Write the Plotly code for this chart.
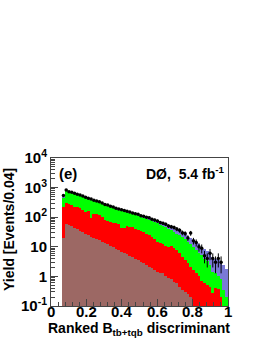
import plotly.graph_objects as go

# bins: width 1/64, first filled bin index 4
bin_width = 1.0 / 64
first_bin = 4

# stacked (cumulative) tops, per bin (index 4..63)
brown_top = [20, 58, 55, 50, 44, 40, 35, 32, 28, 25, 22, 20, 18, 17, 15, 13.5, 12, 10.5, 9.5, 8.5,
             7.6, 6.9, 6.0, 5.5, 5.0, 4.4, 4.0, 3.5, 3.1, 2.75, 2.4, 2.1, 1.86, 1.66, 1.45, 1.35, 1.26, 1.05, 0.89, 0.79,
             0.66, 0.60, 0.45, 0.35, 0.30, 0.25, 0.20, 0, 0, 0, 0, 0, 0, 0, 0, 0, 0, 0, 0, 0]
red_top = [224, 295, 275, 263, 229, 219, 200, 178, 155, 158, 95, 132, 126, 115, 105, 83, 76, 69, 66, 63,
           58, 42, 44, 52, 48, 45, 40, 36, 33, 32, 28, 25, 21, 19, 14, 13, 12, 10.5, 10, 11,
           8.9, 7.6, 6.0, 4.6, 3.5, 2.8, 2.0, 1.66, 1.26, 1.0, 0.71, 0.60, 0.50, 0.45, 0.28, 0.40, 0.38, 0.20, 0, 0]
green_top = [457, 832, 759, 692, 631, 575, 537, 501, 457, 427, 398, 363, 339, 316, 288, 263, 251, 219, 204, 191,
             178, 166, 155, 145, 135, 126, 117, 110, 102, 95, 89, 83, 76, 69, 62, 55, 50, 45, 40, 36,
             32, 28, 25, 21, 18, 14.5, 12.6, 10, 7.9, 6.3, 5.2, 4.0, 3.2, 2.5, 1.4, 1.3, 1.0, 0.8, 0.35, 0.2]
blue_top = [470, 855, 780, 712, 650, 593, 555, 518, 473, 443, 414, 378, 354, 331, 302, 277, 265, 232, 217, 204,
            191, 179, 168, 158, 148, 139, 130, 123, 115, 108, 102, 96, 89, 82, 75, 68, 63, 57, 52, 48,
            43, 39, 35, 31, 27, 23, 20, 17, 14, 12, 10, 8.5, 7.2, 6.0, 4.5, 4.0, 3.5, 3.0, 2.5, 1.8]
data_vals = [540, 830, 725, 700, 650, 600, 560, 520, 470, 440, 410, 375, 350, 330, 300, 270, 260, 235, 220, 200,
             190, 180, 170, 158, 150, 138, 130, 125, 112, 108, 100, 95, 86, 80, 74, 66, 62, 58, 50, 48,
             45, 40, 36, 30, 28, 20, 29, 16, 14, 10, 9, 5, 4, 6, 4, 3, 4, 3, 0, 0]

ytick_vals = [0.1, 1, 10, 100, 1000, 10000]
ytick_text = ["10<sup>-1</sup>", "1", "10", "10<sup>2</sup>", "10<sup>3</sup>", "10<sup>4</sup>"]
xtick_vals = [0, 0.2, 0.4, 0.6, 0.8, 1.0]
xtick_text = ["0", "0.2", "0.4", "0.6", "0.8", "1"]

centers = [(first_bin + i + 0.5) * bin_width for i in range(len(blue_top))]

def nz(v):
    return [x if x > 0 else None for x in v]

fig = go.Figure()
for vals, col in [(blue_top, "#7a7ad6"), (green_top, "#00ff00"), (red_top, "#ff0000"), (brown_top, "#9c6864")]:
    fig.add_trace(go.Bar(x=centers, y=nz(vals), width=bin_width, marker=dict(color=col, line=dict(width=0)),
                         showlegend=False))

dx = [c for c, d in zip(centers, data_vals) if d > 0]
dy = [d for d in data_vals if d > 0]
de = [d ** 0.5 for d in dy]
fig.add_trace(go.Scatter(x=dx, y=dy, mode="markers", marker=dict(color="black", size=3.5),
                         error_y=dict(type="data", array=de, color="black", thickness=1, width=0),
                         showlegend=False))

minor_y = [m * 10 ** e for e in range(-1, 4) for m in range(2, 10)]

# target plot area on the page: x 51..228, y 158..306
L, R, T, B = 51, 228, 158, 306
W, H = 262, 339
plot_w = R - L
plot_h = B - T

fig.update_layout(
    width=W, height=H, barmode="overlay", bargap=0,
    margin=dict(l=L, r=W - R, t=T, b=H - B, pad=0),
    paper_bgcolor="white", plot_bgcolor="white",
    font=dict(family="Liberation Sans", color="black"),
)
fig.update_xaxes(range=[0, 1], tickvals=xtick_vals, showticklabels=False, ticks="inside", ticklen=7,
                 showgrid=False, zeroline=False, automargin=False,
                 showline=True, linecolor="#444", linewidth=1, mirror=True,
                 minor=dict(tickvals=[i * 0.04 for i in range(26)], ticks="inside", ticklen=4, tickcolor="#444"))
fig.update_yaxes(type="log", range=[-1, 4], tickvals=ytick_vals, ticktext=ytick_text, ticks="inside", ticklen=7,
                 tickfont=dict(size=15, weight="bold"), showgrid=False, zeroline=False, automargin=False,
                 showline=True, linecolor="#444", linewidth=1, mirror=True,
                 minor=dict(tickvals=minor_y, ticks="inside", ticklen=4, tickcolor="#444"))

def px(xp):
    return (xp - L) / plot_w

def py(yp):
    return (B - yp) / plot_h

# x tick labels placed at the axis' own data coordinates
for v, t in zip(xtick_vals, xtick_text):
    fig.add_annotation(x=v, y=py(311.5), xref="x", yref="paper", text="<b>" + t + "</b>", showarrow=False,
                       xanchor="center", yanchor="middle", font=dict(size=15))

fig.add_annotation(x=px(139), y=py(329), xref="paper", yref="paper",
                   text="<b>Ranked B<sub>tb+tqb</sub> discriminant</b>", showarrow=False,
                   xanchor="center", yanchor="middle", font=dict(size=14))
fig.add_annotation(x=px(9), y=py(230), xref="paper", yref="paper",
                   text="<b>Yield [Events/0.04]</b>", showarrow=False, textangle=-90,
                   xanchor="center", yanchor="middle", font=dict(size=14))
fig.add_annotation(x=px(57), y=py(163), xref="paper", yref="paper", text="<b>(e)</b>", showarrow=False,
                   xanchor="left", yanchor="top", font=dict(size=15))
fig.add_annotation(x=px(226), y=py(162), xref="paper", yref="paper", text="<b>DØ,  5.4 fb<sup>-1</sup></b>",
                   showarrow=False, xanchor="right", yanchor="top", font=dict(size=14))

fig.write_html("out.html", config={"displayModeBar": False},
               post_script="document.body.style.margin='0';document.body.style.padding='0';")
